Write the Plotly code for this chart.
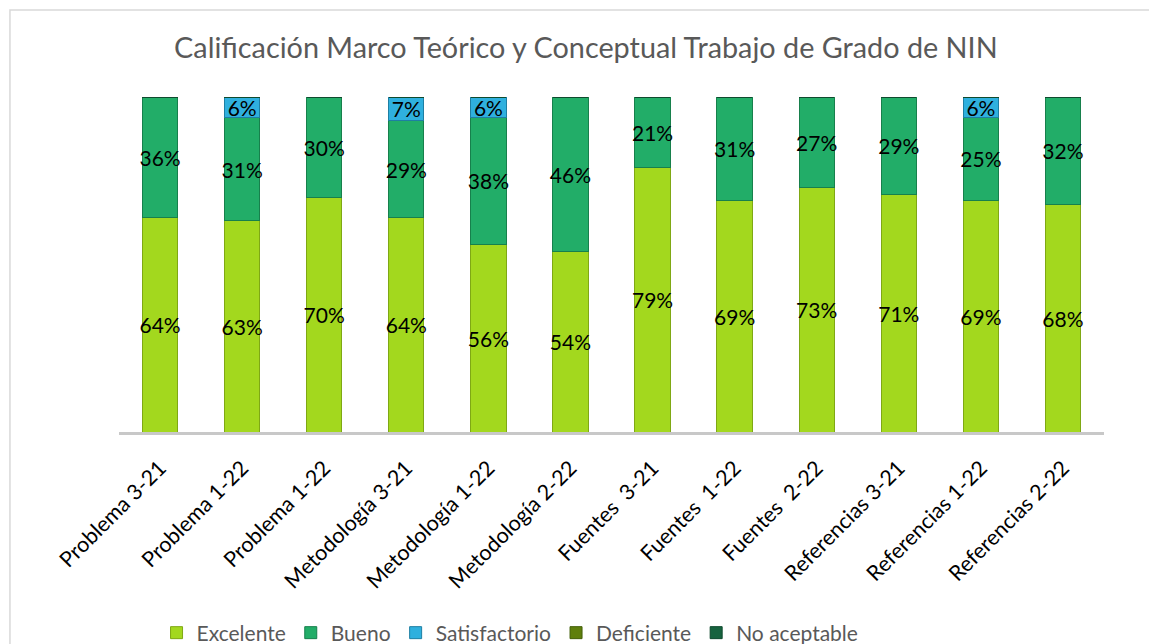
import plotly.graph_objects as go

categories = ["Problema 3-21", "Problema 1-22", "Problema 1-22", "Metodología 3-21",
              "Metodología 1-22", "Metodología 2-22", "Fuentes  3-21", "Fuentes  1-22",
              "Fuentes  2-22", "Referencias 3-21", "Referencias 1-22", "Referencias 2-22"]
excelente = [64, 63, 70, 64, 56, 54, 79, 69, 73, 71, 69, 68]
bueno = [36, 31, 30, 29, 38, 46, 21, 31, 27, 29, 25, 32]
satisfactorio = [0, 6, 0, 7, 6, 0, 0, 0, 0, 0, 6, 0]
deficiente = [0] * 12
no_aceptable = [0] * 12

series = [
    ("Excelente", excelente, "#A3D81E", "#7FA814"),
    ("Bueno", bueno, "#22AD68", "#17804C"),
    ("Satisfactorio", satisfactorio, "#2FB0DE", "#1E7FA3"),
    ("Deficiente", deficiente, "#5F7F0C", "#44600A"),
    ("No aceptable", no_aceptable, "#17633F", "#0F4A2E"),
]

x = list(range(len(categories)))
fig = go.Figure()
for name, vals, col, edge in series:
    fig.add_trace(go.Bar(
        x=x, y=vals, name=name,
        marker=dict(color=col, line=dict(color=edge, width=1)),
        text=[f"{v}%" if v > 0 else "" for v in vals],
        textposition="inside", insidetextanchor="middle", textangle=0,
        textfont=dict(family="Lato", size=21, color="#000000"),
        constraintext="none", cliponaxis=False,
    ))

fig.update_layout(
    barmode="stack", bargap=0.57,
    width=1157, height=644,
    margin=dict(l=111, r=61, t=89, b=220, autoexpand=False),
    paper_bgcolor="white", plot_bgcolor="white",
    title=dict(text="Calificación Marco Teórico y Conceptual Trabajo de Grado de NIN",
               x=0.474, xanchor="center", xref="paper", y=1 - 40 / 644, yanchor="middle",
               font=dict(family="Lato", size=28.8, color="#595959")),
    uniformtext=dict(mode=False),
    legend=dict(orientation="h", x=0.397, xanchor="center", y=-0.6, yanchor="middle",
                font=dict(family="Lato", size=21, color="#595959"),
                itemwidth=30, traceorder="normal"),
    font=dict(family="Lato"),
)
fig.update_xaxes(tickmode="array", tickvals=x, ticktext=categories, tickangle=-45,
                 tickfont=dict(family="Lato", size=21.5, color="#000000"),
                 showline=True, linecolor="#C8C8C8", linewidth=3, showgrid=False,
                 ticks="outside", ticklen=12, tickcolor="rgba(0,0,0,0)",
                 range=[-0.5, 11.5])
fig.update_yaxes(range=[0, 100], visible=False)
fig.add_shape(type="rect", xref="paper", yref="paper", x0=-0.1107, x1=1.2, y0=-0.8, y1=1.2597,
              line=dict(color="#D9D9D9", width=1.5), fillcolor="rgba(0,0,0,0)", layer="below")
fig.write_html("out.html")
